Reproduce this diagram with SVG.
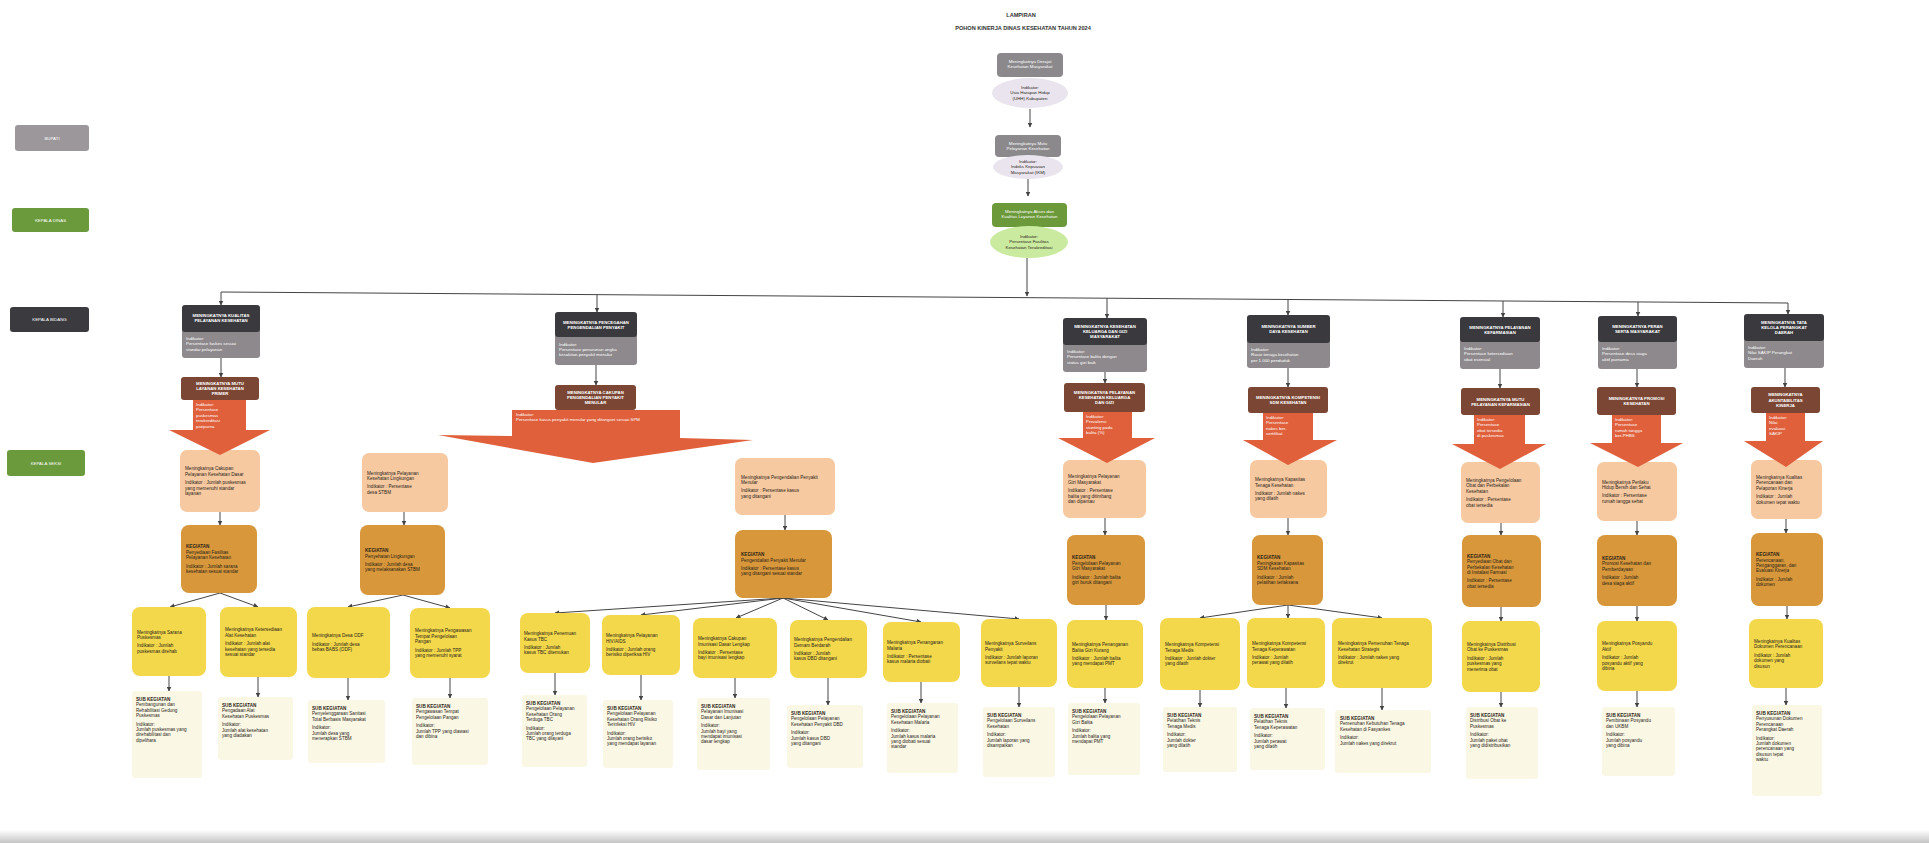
<svg xmlns="http://www.w3.org/2000/svg" width="1929" height="843" viewBox="0 0 1929 843">
<defs>
<style>
text{font-family:"Liberation Sans",Arial,sans-serif}
.ttl{fill:#333;font-size:5.6px;font-weight:bold;text-anchor:middle}
.wb{fill:#fff;font-size:4.3px;font-weight:bold;text-anchor:middle}
.wc{fill:#fff;font-size:4.4px;text-anchor:middle}
.wi{fill:#fff;font-size:4.4px}
.dc{fill:#2a2418;font-size:4.4px;text-anchor:middle}
.d{fill:#2a2418;font-size:4.6px}
.b{font-weight:bold}
.dark{fill:#3a393d}
.gry{fill:#8e898c}
.brn{fill:#7b4734}
.arr{fill:#e0603c}
.pch{fill:#f7c9a1}
.och{fill:#d8973a}
.yel{fill:#f3d84b}
.crm{fill:#faf7e4}
.ln{stroke:#444;stroke-width:1;fill:none}
.la{stroke:#444;stroke-width:1;fill:none;marker-end:url(#ah)}
</style>
<marker id="ah" markerWidth="5" markerHeight="5" refX="4.5" refY="2.5" orient="auto" markerUnits="userSpaceOnUse"><path d="M0,0 L5,2.5 L0,5 z" fill="#444"/></marker>
<linearGradient id="edge" x1="0" y1="0" x2="0" y2="1"><stop offset="0" stop-color="#ffffff"/><stop offset="1" stop-color="#c4c4c4"/></linearGradient>
</defs>
<rect width="1929" height="843" fill="#ffffff"/>
<rect x="0" y="830" width="1929" height="13" fill="url(#edge)"/>

<g id="title">
<text class="ttl" x="1021" y="17">LAMPIRAN</text>
<text class="ttl" x="1023" y="30">POHON KINERJA DINAS KESEHATAN TAHUN 2024</text>
</g>

<g id="legend">
<g id="leg1"><rect x="15" y="125" width="74" height="26" rx="3" fill="#9b979b"/><text class="wc" x="52" y="139.5">BUPATI</text></g>
<g id="leg2"><rect x="12" y="208" width="77" height="24" rx="3" fill="#6a9a3b"/><text class="wc" x="50.5" y="221.5">KEPALA DINAS</text></g>
<g id="leg3"><rect x="10" y="307" width="79" height="25" rx="3" fill="#3b3b3f"/><text class="wc" x="49.5" y="321">KEPALA BIDANG</text></g>
<g id="leg4"><rect x="7" y="450" width="78" height="26" rx="3" fill="#6a9a3b"/><text class="wc" x="46" y="464.5">KEPALA SEKSI</text></g>
</g>

<g id="connectors">
<path class="la" d="M1030,109 V127"/>
<path class="la" d="M1028,179 V196"/>
<path class="la" d="M1027,258 V296"/>
<path class="ln" d="M221,292 L1788,303"/>
<path class="la" d="M221,292 V305"/>
<path class="la" d="M597,294.6 V312"/>
<path class="la" d="M1107,298.2 V318"/>
<path class="la" d="M1288,299.5 V315"/>
<path class="la" d="M1503,301 V317"/>
<path class="la" d="M1638,302 V316"/>
<path class="la" d="M1788,303 V314"/>
<path class="la" d="M221,358 V377"/>
<path class="la" d="M596,365 V385"/>
<path class="la" d="M1105,372 V383"/>
<path class="la" d="M1288,368 V387"/>
<path class="la" d="M1500,369 V388"/>
<path class="la" d="M1637,369 V387"/>
<path class="la" d="M1785,368 V387"/>
<path class="la" d="M220,512 V525"/>
<path class="la" d="M404,512 V525"/>
<path class="la" d="M785,515 V530"/>
<path class="la" d="M1105,518 V535"/>
<path class="la" d="M1288,518 V535"/>
<path class="la" d="M1501,523 V535"/>
<path class="la" d="M1637,521 V535"/>
<path class="la" d="M1786,519 V533"/>
<path class="la" d="M220,593 L170,607"/>
<path class="la" d="M220,593 L258,607"/>
<path class="la" d="M403,595 L348,607"/>
<path class="la" d="M403,595 L450,608"/>
<path class="la" d="M783,598 L555,613"/>
<path class="la" d="M783,598 L641,615"/>
<path class="la" d="M783,598 L736,618"/>
<path class="la" d="M783,598 L828,620"/>
<path class="la" d="M783,598 L921,622"/>
<path class="la" d="M783,598 L1019,619"/>
<path class="la" d="M1106,605 V620"/>
<path class="la" d="M1288,605 L1200,618"/>
<path class="la" d="M1288,605 V618"/>
<path class="la" d="M1288,605 L1382,618"/>
<path class="la" d="M1501,607 V621"/>
<path class="la" d="M1637,606 V621"/>
<path class="la" d="M1787,606 V619"/>
<path class="la" d="M169,676 V691"/>
<path class="la" d="M258,677 V697"/>
<path class="la" d="M348,678 V700"/>
<path class="la" d="M450,678 V698"/>
<path class="la" d="M555,673 V695"/>
<path class="la" d="M641,675 V700"/>
<path class="la" d="M735,678 V698"/>
<path class="la" d="M828,678 V705"/>
<path class="la" d="M921,682 V703"/>
<path class="la" d="M1019,687 V707"/>
<path class="la" d="M1105,688 V703"/>
<path class="la" d="M1200,690 V707"/>
<path class="la" d="M1286,688 V708"/>
<path class="la" d="M1382,688 V710"/>
<path class="la" d="M1501,692 V707"/>
<path class="la" d="M1637,691 V707"/>
<path class="la" d="M1786,688 V705"/>
</g>

<!-- top chain -->
<g id="top1"><rect x="997" y="53" width="66" height="24" rx="4" fill="#8b898c"/><text class="wc" x="1030" y="63"><tspan x="1030">Meningkatnya Derajat</tspan><tspan x="1030" dy="5.4">Kesehatan Masyarakat</tspan></text></g>
<g id="top1-ind"><ellipse cx="1030" cy="93" rx="38" ry="15" fill="#e9e4ee"/><text class="dc" x="1030" y="89"><tspan x="1030">Indikator:</tspan><tspan x="1030" dy="5.4">Usia Harapan Hidup</tspan><tspan x="1030" dy="5.4">(UHH) Kabupaten</tspan></text></g>
<g id="top2"><rect x="995" y="135" width="66" height="22" rx="4" fill="#8b898c"/><text class="wc" x="1028" y="144.5"><tspan x="1028">Meningkatnya Mutu</tspan><tspan x="1028" dy="5.4">Pelayanan Kesehatan</tspan></text></g>
<g id="top2-ind"><ellipse cx="1028" cy="167" rx="35" ry="12" fill="#e9e4ee"/><text class="dc" x="1028" y="163"><tspan x="1028">Indikator:</tspan><tspan x="1028" dy="5.4">Indeks Kepuasan</tspan><tspan x="1028" dy="5.4">Masyarakat (IKM)</tspan></text></g>
<g id="top3"><rect x="992" y="203" width="75" height="24" rx="4" fill="#6c9a3a"/><text class="wc" x="1029.5" y="213"><tspan x="1029.5">Meningkatnya Akses dan</tspan><tspan x="1029.5" dy="5.4">Kualitas Layanan Kesehatan</tspan></text></g>
<g id="top3-ind"><ellipse cx="1029" cy="242" rx="39" ry="16" fill="#c9ea9f"/><text class="dc" x="1029" y="238"><tspan x="1029">Indikator:</tspan><tspan x="1029" dy="5.4">Persentase Fasilitas</tspan><tspan x="1029" dy="5.4">Kesehatan Terakreditasi</tspan></text></g>

<!-- Column A -->
<g id="A-bidang"><rect class="gry" x="182" y="328" width="78" height="30" rx="3"/><rect class="dark" x="182" y="305" width="78" height="27" rx="3"/>
<text class="wb" x="221" y="317.2"><tspan x="221">MENINGKATNYA KUALITAS</tspan><tspan x="221" dy="5.2">PELAYANAN KESEHATAN</tspan></text>
<text class="wi" x="186" y="340"><tspan x="186">Indikator:</tspan><tspan x="186" dy="5.4">Persentase faskes sesuai</tspan><tspan x="186" dy="5.4">standar pelayanan</tspan></text></g>
<g id="A-seksi"><rect class="brn" x="181" y="377" width="78" height="23" rx="3"/>
<text class="wb" x="220" y="384.9"><tspan x="220">MENINGKATNYA MUTU</tspan><tspan x="220" dy="5.2">LAYANAN KESEHATAN</tspan><tspan x="220" dy="5.2">PRIMER</tspan></text></g>
<g id="A-program"><rect class="pch" x="180" y="450" width="80" height="62" rx="7"/>
<text class="d" x="185" y="470.4"><tspan x="185">Meningkatnya Cakupan</tspan><tspan x="185" dy="5.4">Pelayanan Kesehatan Dasar</tspan><tspan x="185" dy="8.4">Indikator : Jumlah puskesmas</tspan><tspan x="185" dy="5.4">yang memenuhi standar</tspan><tspan x="185" dy="5.4">layanan</tspan></text></g>
<g id="A-arrow"><polygon class="arr" points="193,400 246,400 246,430 270,430 220,455 169,430 193,430"/>
<text class="wi" x="196" y="406"><tspan x="196">Indikator:</tspan><tspan x="196" dy="5.4">Persentase</tspan><tspan x="196" dy="5.4">puskesmas</tspan><tspan x="196" dy="5.4">terakreditasi</tspan><tspan x="196" dy="5.4">paripurna</tspan></text></g>
<g id="A-kegiatan"><rect class="och" x="181" y="525" width="76" height="68" rx="8"/>
<text class="d" x="186" y="548.4"><tspan x="186" class="b">KEGIATAN</tspan><tspan x="186" dy="5.4">Penyediaan Fasilitas</tspan><tspan x="186" dy="5.4">Pelayanan Kesehatan</tspan><tspan x="186" dy="8.4">Indikator : Jumlah sarana</tspan><tspan x="186" dy="5.4">kesehatan sesuai standar</tspan></text></g>
<g id="A-k1"><rect class="yel" x="132" y="607" width="74" height="69" rx="8"/>
<text class="d" x="137" y="633.6"><tspan x="137">Meningkatnya Sarana</tspan><tspan x="137" dy="5.4">Puskesmas</tspan><tspan x="137" dy="8.4">Indikator : Jumlah</tspan><tspan x="137" dy="5.4">puskesmas direhab</tspan></text></g>
<g id="A-k2"><rect class="yel" x="220" y="607" width="77" height="70" rx="8"/>
<text class="d" x="225" y="631.4"><tspan x="225">Meningkatnya Ketersediaan</tspan><tspan x="225" dy="5.4">Alat Kesehatan</tspan><tspan x="225" dy="8.4">Indikator : Jumlah alat</tspan><tspan x="225" dy="5.4">kesehatan yang tersedia</tspan><tspan x="225" dy="5.4">sesuai standar</tspan></text></g>
<g id="A-s1"><rect class="crm" x="132" y="691" width="70" height="87" rx="3"/>
<text class="d" x="136" y="701"><tspan x="136" class="b">SUB KEGIATAN</tspan><tspan x="136" dy="5.4">Pembangunan dan</tspan><tspan x="136" dy="5.4">Rehabilitasi Gedung</tspan><tspan x="136" dy="5.4">Puskesmas</tspan><tspan x="136" dy="8.4">Indikator:</tspan><tspan x="136" dy="5.4">Jumlah puskesmas yang</tspan><tspan x="136" dy="5.4">direhabilitasi dan</tspan><tspan x="136" dy="5.4">dipelihara</tspan></text></g>
<g id="A-s2"><rect class="crm" x="218" y="697" width="75" height="63" rx="3"/>
<text class="d" x="222" y="707"><tspan x="222" class="b">SUB KEGIATAN</tspan><tspan x="222" dy="5.4">Pengadaan Alat</tspan><tspan x="222" dy="5.4">Kesehatan Puskesmas</tspan><tspan x="222" dy="8.4">Indikator:</tspan><tspan x="222" dy="5.4">Jumlah alat kesehatan</tspan><tspan x="222" dy="5.4">yang diadakan</tspan></text></g>

<!-- Column B -->
<g id="B-bidang"><rect class="gry" x="555" y="333" width="82" height="32" rx="3"/><rect class="dark" x="555" y="312" width="82" height="25" rx="3"/>
<text class="wb" x="596" y="323.5"><tspan x="596">MENINGKATNYA PENCEGAHAN</tspan><tspan x="596" dy="5.2">PENGENDALIAN PENYAKIT</tspan></text>
<text class="wi" x="559" y="345.5"><tspan x="559">Indikator:</tspan><tspan x="559" dy="5.4">Persentase penurunan angka</tspan><tspan x="559" dy="5.4">kesakitan penyakit menular</tspan></text></g>
<g id="B-seksi"><rect class="brn" x="555" y="385" width="81" height="25" rx="3"/>
<text class="wb" x="595.5" y="393.9"><tspan x="595.5">MENINGKATNYA CAKUPAN</tspan><tspan x="595.5" dy="5.2">PENGENDALIAN PENYAKIT</tspan><tspan x="595.5" dy="5.2">MENULAR</tspan></text></g>
<g id="B1-program"><rect class="pch" x="362" y="453" width="86" height="59" rx="7"/>
<text class="d" x="367" y="474.6"><tspan x="367">Meningkatnya Pelayanan</tspan><tspan x="367" dy="5.4">Kesehatan Lingkungan</tspan><tspan x="367" dy="8.4">Indikator : Persentase</tspan><tspan x="367" dy="5.4">desa STBM</tspan></text></g>
<g id="B2-program"><rect class="pch" x="735" y="458" width="100" height="57" rx="7"/>
<text class="d" x="741" y="478.6"><tspan x="741">Meningkatnya Pengendalian Penyakit</tspan><tspan x="741" dy="5.4">Menular</tspan><tspan x="741" dy="8.4">Indikator : Persentase kasus</tspan><tspan x="741" dy="5.4">yang ditangani</tspan></text></g>
<g id="B-arrow"><polygon class="arr" points="512,410 680,410 680,438 753,440 593,463 438,435 512,436"/>
<text class="wi" x="516" y="416"><tspan x="516">Indikator:</tspan><tspan x="516" dy="5.4">Persentase kasus penyakit menular yang ditangani sesuai SPM</tspan></text></g>
<g id="B1-kegiatan"><rect class="och" x="360" y="525" width="85" height="70" rx="8"/>
<text class="d" x="365" y="552.1"><tspan x="365" class="b">KEGIATAN</tspan><tspan x="365" dy="5.4">Penyehatan Lingkungan</tspan><tspan x="365" dy="8.4">Indikator : Jumlah desa</tspan><tspan x="365" dy="5.4">yang melaksanakan STBM</tspan></text></g>
<g id="B1-k1"><rect class="yel" x="307" y="607" width="83" height="71" rx="8"/>
<text class="d" x="312" y="637.3"><tspan x="312">Meningkatnya Desa ODF</tspan><tspan x="312" dy="8.4">Indikator : Jumlah desa</tspan><tspan x="312" dy="5.4">bebas BABS (ODF)</tspan></text></g>
<g id="B1-k2"><rect class="yel" x="410" y="608" width="80" height="70" rx="8"/>
<text class="d" x="415" y="632.4"><tspan x="415">Meningkatnya Pengawasan</tspan><tspan x="415" dy="5.4">Tempat Pengelolaan</tspan><tspan x="415" dy="5.4">Pangan</tspan><tspan x="415" dy="8.4">Indikator : Jumlah TPP</tspan><tspan x="415" dy="5.4">yang memenuhi syarat</tspan></text></g>
<g id="B1-s1"><rect class="crm" x="308" y="700" width="77" height="63" rx="3"/>
<text class="d" x="312" y="710"><tspan x="312" class="b">SUB KEGIATAN</tspan><tspan x="312" dy="5.4">Penyelenggaraan Sanitasi</tspan><tspan x="312" dy="5.4">Total Berbasis Masyarakat</tspan><tspan x="312" dy="8.4">Indikator:</tspan><tspan x="312" dy="5.4">Jumlah desa yang</tspan><tspan x="312" dy="5.4">menerapkan STBM</tspan></text></g>
<g id="B1-s2"><rect class="crm" x="412" y="698" width="76" height="67" rx="3"/>
<text class="d" x="416" y="708"><tspan x="416" class="b">SUB KEGIATAN</tspan><tspan x="416" dy="5.4">Pengawasan Tempat</tspan><tspan x="416" dy="5.4">Pengelolaan Pangan</tspan><tspan x="416" dy="8.4">Indikator:</tspan><tspan x="416" dy="5.4">Jumlah TPP yang diawasi</tspan><tspan x="416" dy="5.4">dan dibina</tspan></text></g>
<g id="B2-kegiatan"><rect class="och" x="735" y="530" width="97" height="68" rx="8"/>
<text class="d" x="741" y="556.1"><tspan x="741" class="b">KEGIATAN</tspan><tspan x="741" dy="5.4">Pengendalian Penyakit Menular</tspan><tspan x="741" dy="8.4">Indikator : Persentase kasus</tspan><tspan x="741" dy="5.4">yang ditangani sesuai standar</tspan></text></g>
<g id="B2-k1"><rect class="yel" x="520" y="613" width="70" height="60" rx="8"/>
<text class="d" x="524" y="635.1"><tspan x="524">Meningkatnya Penemuan</tspan><tspan x="524" dy="5.4">Kasus TBC</tspan><tspan x="524" dy="8.4">Indikator : Jumlah</tspan><tspan x="524" dy="5.4">kasus TBC ditemukan</tspan></text></g>
<g id="B2-k2"><rect class="yel" x="602" y="615" width="78" height="60" rx="8"/>
<text class="d" x="606" y="637.1"><tspan x="606">Meningkatnya Pelayanan</tspan><tspan x="606" dy="5.4">HIV/AIDS</tspan><tspan x="606" dy="8.4">Indikator : Jumlah orang</tspan><tspan x="606" dy="5.4">berisiko diperiksa HIV</tspan></text></g>
<g id="B2-k3"><rect class="yel" x="693" y="618" width="84" height="60" rx="8"/>
<text class="d" x="698" y="640.1"><tspan x="698">Meningkatnya Cakupan</tspan><tspan x="698" dy="5.4">Imunisasi Dasar Lengkap</tspan><tspan x="698" dy="8.4">Indikator : Persentase</tspan><tspan x="698" dy="5.4">bayi imunisasi lengkap</tspan></text></g>
<g id="B2-k4"><rect class="yel" x="790" y="620" width="77" height="58" rx="8"/>
<text class="d" x="794" y="641.1"><tspan x="794">Meningkatnya Pengendalian</tspan><tspan x="794" dy="5.4">Demam Berdarah</tspan><tspan x="794" dy="8.4">Indikator : Jumlah</tspan><tspan x="794" dy="5.4">kasus DBD ditangani</tspan></text></g>
<g id="B2-k5"><rect class="yel" x="883" y="622" width="77" height="60" rx="8"/>
<text class="d" x="887" y="644.1"><tspan x="887">Meningkatnya Penanganan</tspan><tspan x="887" dy="5.4">Malaria</tspan><tspan x="887" dy="8.4">Indikator : Persentase</tspan><tspan x="887" dy="5.4">kasus malaria diobati</tspan></text></g>
<g id="B2-k6"><rect class="yel" x="981" y="619" width="76" height="68" rx="8"/>
<text class="d" x="985" y="645.1"><tspan x="985">Meningkatnya Surveilans</tspan><tspan x="985" dy="5.4">Penyakit</tspan><tspan x="985" dy="8.4">Indikator : Jumlah laporan</tspan><tspan x="985" dy="5.4">surveilans tepat waktu</tspan></text></g>
<g id="B2-s1"><rect class="crm" x="522" y="695" width="65" height="72" rx="3"/>
<text class="d" x="526" y="705"><tspan x="526" class="b">SUB KEGIATAN</tspan><tspan x="526" dy="5.4">Pengelolaan Pelayanan</tspan><tspan x="526" dy="5.4">Kesehatan Orang</tspan><tspan x="526" dy="5.4">Terduga TBC</tspan><tspan x="526" dy="8.4">Indikator:</tspan><tspan x="526" dy="5.4">Jumlah orang terduga</tspan><tspan x="526" dy="5.4">TBC yang dilayani</tspan></text></g>
<g id="B2-s2"><rect class="crm" x="603" y="700" width="70" height="68" rx="3"/>
<text class="d" x="607" y="710"><tspan x="607" class="b">SUB KEGIATAN</tspan><tspan x="607" dy="5.4">Pengelolaan Pelayanan</tspan><tspan x="607" dy="5.4">Kesehatan Orang Risiko</tspan><tspan x="607" dy="5.4">Terinfeksi HIV</tspan><tspan x="607" dy="8.4">Indikator:</tspan><tspan x="607" dy="5.4">Jumlah orang berisiko</tspan><tspan x="607" dy="5.4">yang mendapat layanan</tspan></text></g>
<g id="B2-s3"><rect class="crm" x="697" y="698" width="73" height="72" rx="3"/>
<text class="d" x="701" y="708"><tspan x="701" class="b">SUB KEGIATAN</tspan><tspan x="701" dy="5.4">Pelayanan Imunisasi</tspan><tspan x="701" dy="5.4">Dasar dan Lanjutan</tspan><tspan x="701" dy="8.4">Indikator:</tspan><tspan x="701" dy="5.4">Jumlah bayi yang</tspan><tspan x="701" dy="5.4">mendapat imunisasi</tspan><tspan x="701" dy="5.4">dasar lengkap</tspan></text></g>
<g id="B2-s4"><rect class="crm" x="787" y="705" width="76" height="63" rx="3"/>
<text class="d" x="791" y="715"><tspan x="791" class="b">SUB KEGIATAN</tspan><tspan x="791" dy="5.4">Pengelolaan Pelayanan</tspan><tspan x="791" dy="5.4">Kesehatan Penyakit DBD</tspan><tspan x="791" dy="8.4">Indikator:</tspan><tspan x="791" dy="5.4">Jumlah kasus DBD</tspan><tspan x="791" dy="5.4">yang ditangani</tspan></text></g>
<g id="B2-s5"><rect class="crm" x="887" y="703" width="71" height="70" rx="3"/>
<text class="d" x="891" y="713"><tspan x="891" class="b">SUB KEGIATAN</tspan><tspan x="891" dy="5.4">Pengelolaan Pelayanan</tspan><tspan x="891" dy="5.4">Kesehatan Malaria</tspan><tspan x="891" dy="8.4">Indikator:</tspan><tspan x="891" dy="5.4">Jumlah kasus malaria</tspan><tspan x="891" dy="5.4">yang diobati sesuai</tspan><tspan x="891" dy="5.4">standar</tspan></text></g>
<g id="B2-s6"><rect class="crm" x="983" y="707" width="72" height="70" rx="3"/>
<text class="d" x="987" y="717"><tspan x="987" class="b">SUB KEGIATAN</tspan><tspan x="987" dy="5.4">Pengelolaan Surveilans</tspan><tspan x="987" dy="5.4">Kesehatan</tspan><tspan x="987" dy="8.4">Indikator:</tspan><tspan x="987" dy="5.4">Jumlah laporan yang</tspan><tspan x="987" dy="5.4">disampaikan</tspan></text></g>

<!-- Column C -->
<g id="C-bidang"><rect class="gry" x="1063" y="341" width="84" height="31" rx="3"/><rect class="dark" x="1063" y="318" width="84" height="27" rx="3"/>
<text class="wb" x="1105" y="327.9"><tspan x="1105">MENINGKATNYA KESEHATAN</tspan><tspan x="1105" dy="5.2">KELUARGA DAN GIZI</tspan><tspan x="1105" dy="5.2">MASYARAKAT</tspan></text>
<text class="wi" x="1067" y="353"><tspan x="1067">Indikator:</tspan><tspan x="1067" dy="5.4">Persentase balita dengan</tspan><tspan x="1067" dy="5.4">status gizi baik</tspan></text></g>
<g id="C-seksi"><rect class="brn" x="1064" y="383" width="81" height="29" rx="3"/>
<text class="wb" x="1104.5" y="393.9"><tspan x="1104.5">MENINGKATNYA PELAYANAN</tspan><tspan x="1104.5" dy="5.2">KESEHATAN KELUARGA</tspan><tspan x="1104.5" dy="5.2">DAN GIZI</tspan></text></g>
<g id="C-program"><rect class="pch" x="1063" y="460" width="83" height="58" rx="7"/>
<text class="d" x="1068" y="478.4"><tspan x="1068">Meningkatnya Pelayanan</tspan><tspan x="1068" dy="5.4">Gizi Masyarakat</tspan><tspan x="1068" dy="8.4">Indikator : Persentase</tspan><tspan x="1068" dy="5.4">balita yang ditimbang</tspan><tspan x="1068" dy="5.4">dan dipantau</tspan></text></g>
<g id="C-arrow"><polygon class="arr" points="1083,412 1132,412 1132,438 1155,438 1107,463 1058,438 1083,438"/>
<text class="wi" x="1086" y="418"><tspan x="1086">Indikator:</tspan><tspan x="1086" dy="5.4">Prevalensi</tspan><tspan x="1086" dy="5.4">stunting pada</tspan><tspan x="1086" dy="5.4">balita (%)</tspan></text></g>
<g id="C-kegiatan"><rect class="och" x="1067" y="535" width="78" height="70" rx="8"/>
<text class="d" x="1072" y="559.4"><tspan x="1072" class="b">KEGIATAN</tspan><tspan x="1072" dy="5.4">Pengelolaan Pelayanan</tspan><tspan x="1072" dy="5.4">Gizi Masyarakat</tspan><tspan x="1072" dy="8.4">Indikator : Jumlah balita</tspan><tspan x="1072" dy="5.4">gizi buruk ditangani</tspan></text></g>
<g id="C-k1"><rect class="yel" x="1067" y="620" width="76" height="68" rx="8"/>
<text class="d" x="1072" y="646.1"><tspan x="1072">Meningkatnya Penanganan</tspan><tspan x="1072" dy="5.4">Balita Gizi Kurang</tspan><tspan x="1072" dy="8.4">Indikator : Jumlah balita</tspan><tspan x="1072" dy="5.4">yang mendapat PMT</tspan></text></g>
<g id="C-s1"><rect class="crm" x="1068" y="703" width="72" height="72" rx="3"/>
<text class="d" x="1072" y="713"><tspan x="1072" class="b">SUB KEGIATAN</tspan><tspan x="1072" dy="5.4">Pengelolaan Pelayanan</tspan><tspan x="1072" dy="5.4">Gizi Balita</tspan><tspan x="1072" dy="8.4">Indikator:</tspan><tspan x="1072" dy="5.4">Jumlah balita yang</tspan><tspan x="1072" dy="5.4">mendapat PMT</tspan></text></g>

<!-- Column D -->
<g id="D-bidang"><rect class="gry" x="1247" y="339" width="83" height="29" rx="3"/><rect class="dark" x="1247" y="315" width="83" height="28" rx="3"/>
<text class="wb" x="1288.5" y="328"><tspan x="1288.5">MENINGKATNYA SUMBER</tspan><tspan x="1288.5" dy="5.2">DAYA KESEHATAN</tspan></text>
<text class="wi" x="1251" y="351"><tspan x="1251">Indikator:</tspan><tspan x="1251" dy="5.4">Rasio tenaga kesehatan</tspan><tspan x="1251" dy="5.4">per 1.000 penduduk</tspan></text></g>
<g id="D-seksi"><rect class="brn" x="1248" y="387" width="80" height="26" rx="3"/>
<text class="wb" x="1288" y="399"><tspan x="1288">MENINGKATNYA KOMPETENSI</tspan><tspan x="1288" dy="5.2">SDM KESEHATAN</tspan></text></g>
<g id="D-program"><rect class="pch" x="1250" y="460" width="77" height="58" rx="7"/>
<text class="d" x="1255" y="481.1"><tspan x="1255">Meningkatnya Kapasitas</tspan><tspan x="1255" dy="5.4">Tenaga Kesehatan</tspan><tspan x="1255" dy="8.4">Indikator : Jumlah nakes</tspan><tspan x="1255" dy="5.4">yang dilatih</tspan></text></g>
<g id="D-arrow"><polygon class="arr" points="1263,413 1313,413 1313,440 1337,440 1288,465 1243,440 1263,440"/>
<text class="wi" x="1266" y="419"><tspan x="1266">Indikator:</tspan><tspan x="1266" dy="5.4">Persentase</tspan><tspan x="1266" dy="5.4">nakes ber-</tspan><tspan x="1266" dy="5.4">sertifikat</tspan></text></g>
<g id="D-kegiatan"><rect class="och" x="1252" y="535" width="71" height="70" rx="8"/>
<text class="d" x="1257" y="559.4"><tspan x="1257" class="b">KEGIATAN</tspan><tspan x="1257" dy="5.4">Peningkatan Kapasitas</tspan><tspan x="1257" dy="5.4">SDM Kesehatan</tspan><tspan x="1257" dy="8.4">Indikator : Jumlah</tspan><tspan x="1257" dy="5.4">pelatihan terlaksana</tspan></text></g>
<g id="D-k1"><rect class="yel" x="1160" y="618" width="80" height="72" rx="8"/>
<text class="d" x="1165" y="646.1"><tspan x="1165">Meningkatnya Kompetensi</tspan><tspan x="1165" dy="5.4">Tenaga Medis</tspan><tspan x="1165" dy="8.4">Indikator : Jumlah dokter</tspan><tspan x="1165" dy="5.4">yang dilatih</tspan></text></g>
<g id="D-k2"><rect class="yel" x="1247" y="618" width="78" height="70" rx="8"/>
<text class="d" x="1252" y="645.1"><tspan x="1252">Meningkatnya Kompetensi</tspan><tspan x="1252" dy="5.4">Tenaga Keperawatan</tspan><tspan x="1252" dy="8.4">Indikator : Jumlah</tspan><tspan x="1252" dy="5.4">perawat yang dilatih</tspan></text></g>
<g id="D-k3"><rect class="yel" x="1332" y="618" width="100" height="70" rx="8"/>
<text class="d" x="1338" y="645.1"><tspan x="1338">Meningkatnya Pemenuhan Tenaga</tspan><tspan x="1338" dy="5.4">Kesehatan Strategis</tspan><tspan x="1338" dy="8.4">Indikator : Jumlah nakes yang</tspan><tspan x="1338" dy="5.4">direkrut</tspan></text></g>
<g id="D-s1"><rect class="crm" x="1163" y="707" width="74" height="65" rx="3"/>
<text class="d" x="1167" y="717"><tspan x="1167" class="b">SUB KEGIATAN</tspan><tspan x="1167" dy="5.4">Pelatihan Teknis</tspan><tspan x="1167" dy="5.4">Tenaga Medis</tspan><tspan x="1167" dy="8.4">Indikator:</tspan><tspan x="1167" dy="5.4">Jumlah dokter</tspan><tspan x="1167" dy="5.4">yang dilatih</tspan></text></g>
<g id="D-s2"><rect class="crm" x="1250" y="708" width="75" height="62" rx="3"/>
<text class="d" x="1254" y="718"><tspan x="1254" class="b">SUB KEGIATAN</tspan><tspan x="1254" dy="5.4">Pelatihan Teknis</tspan><tspan x="1254" dy="5.4">Tenaga Keperawatan</tspan><tspan x="1254" dy="8.4">Indikator:</tspan><tspan x="1254" dy="5.4">Jumlah perawat</tspan><tspan x="1254" dy="5.4">yang dilatih</tspan></text></g>
<g id="D-s3"><rect class="crm" x="1335" y="710" width="96" height="63" rx="3"/>
<text class="d" x="1340" y="720"><tspan x="1340" class="b">SUB KEGIATAN</tspan><tspan x="1340" dy="5.4">Pemenuhan Kebutuhan Tenaga</tspan><tspan x="1340" dy="5.4">Kesehatan di Fasyankes</tspan><tspan x="1340" dy="8.4">Indikator:</tspan><tspan x="1340" dy="5.4">Jumlah nakes yang direkrut</tspan></text></g>

<!-- Column E -->
<g id="E-bidang"><rect class="gry" x="1460" y="338" width="80" height="31" rx="3"/><rect class="dark" x="1460" y="317" width="80" height="25" rx="3"/>
<text class="wb" x="1500" y="328.5"><tspan x="1500">MENINGKATNYA PELAYANAN</tspan><tspan x="1500" dy="5.2">KEFARMASIAN</tspan></text>
<text class="wi" x="1464" y="350"><tspan x="1464">Indikator:</tspan><tspan x="1464" dy="5.4">Persentase ketersediaan</tspan><tspan x="1464" dy="5.4">obat esensial</tspan></text></g>
<g id="E-seksi"><rect class="brn" x="1461" y="388" width="79" height="27" rx="3"/>
<text class="wb" x="1500.5" y="400.5"><tspan x="1500.5">MENINGKATNYA MUTU</tspan><tspan x="1500.5" dy="5.2">PELAYANAN KEFARMASIAN</tspan></text></g>
<g id="E-program"><rect class="pch" x="1461" y="462" width="79" height="61" rx="7"/>
<text class="d" x="1466" y="481.9"><tspan x="1466">Meningkatnya Pengelolaan</tspan><tspan x="1466" dy="5.4">Obat dan Perbekalan</tspan><tspan x="1466" dy="5.4">Kesehatan</tspan><tspan x="1466" dy="8.4">Indikator : Persentase</tspan><tspan x="1466" dy="5.4">obat tersedia</tspan></text></g>
<g id="E-arrow"><polygon class="arr" points="1474,415 1525,415 1525,444 1546,444 1500,469 1452,444 1474,444"/>
<text class="wi" x="1477" y="421"><tspan x="1477">Indikator:</tspan><tspan x="1477" dy="5.4">Persentase</tspan><tspan x="1477" dy="5.4">obat tersedia</tspan><tspan x="1477" dy="5.4">di puskesmas</tspan></text></g>
<g id="E-kegiatan"><rect class="och" x="1462" y="535" width="79" height="72" rx="8"/>
<text class="d" x="1467" y="557.7"><tspan x="1467" class="b">KEGIATAN</tspan><tspan x="1467" dy="5.4">Penyediaan Obat dan</tspan><tspan x="1467" dy="5.4">Perbekalan Kesehatan</tspan><tspan x="1467" dy="5.4">di Instalasi Farmasi</tspan><tspan x="1467" dy="8.4">Indikator : Persentase</tspan><tspan x="1467" dy="5.4">obat tersedia</tspan></text></g>
<g id="E-k1"><rect class="yel" x="1462" y="621" width="78" height="71" rx="8"/>
<text class="d" x="1467" y="645.9"><tspan x="1467">Meningkatnya Distribusi</tspan><tspan x="1467" dy="5.4">Obat ke Puskesmas</tspan><tspan x="1467" dy="8.4">Indikator : Jumlah</tspan><tspan x="1467" dy="5.4">puskesmas yang</tspan><tspan x="1467" dy="5.4">menerima obat</tspan></text></g>
<g id="E-s1"><rect class="crm" x="1466" y="707" width="72" height="72" rx="3"/>
<text class="d" x="1470" y="717"><tspan x="1470" class="b">SUB KEGIATAN</tspan><tspan x="1470" dy="5.4">Distribusi Obat ke</tspan><tspan x="1470" dy="5.4">Puskesmas</tspan><tspan x="1470" dy="8.4">Indikator:</tspan><tspan x="1470" dy="5.4">Jumlah paket obat</tspan><tspan x="1470" dy="5.4">yang didistribusikan</tspan></text></g>

<!-- Column F -->
<g id="F-bidang"><rect class="gry" x="1598" y="338" width="79" height="31" rx="3"/><rect class="dark" x="1598" y="316" width="79" height="26" rx="3"/>
<text class="wb" x="1637.5" y="328"><tspan x="1637.5">MENINGKATNYA PERAN</tspan><tspan x="1637.5" dy="5.2">SERTA MASYARAKAT</tspan></text>
<text class="wi" x="1602" y="350"><tspan x="1602">Indikator:</tspan><tspan x="1602" dy="5.4">Persentase desa siaga</tspan><tspan x="1602" dy="5.4">aktif purnama</tspan></text></g>
<g id="F-seksi"><rect class="brn" x="1597" y="387" width="79" height="28" rx="3"/>
<text class="wb" x="1636.5" y="400"><tspan x="1636.5">MENINGKATNYA PROMOSI</tspan><tspan x="1636.5" dy="5.2">KESEHATAN</tspan></text></g>
<g id="F-program"><rect class="pch" x="1597" y="462" width="80" height="59" rx="7"/>
<text class="d" x="1602" y="483.6"><tspan x="1602">Meningkatnya Perilaku</tspan><tspan x="1602" dy="5.4">Hidup Bersih dan Sehat</tspan><tspan x="1602" dy="8.4">Indikator : Persentase</tspan><tspan x="1602" dy="5.4">rumah tangga sehat</tspan></text></g>
<g id="F-arrow"><polygon class="arr" points="1612,415 1661,415 1661,443 1683,443 1638,467 1590,443 1612,443"/>
<text class="wi" x="1615" y="421"><tspan x="1615">Indikator:</tspan><tspan x="1615" dy="5.4">Persentase</tspan><tspan x="1615" dy="5.4">rumah tangga</tspan><tspan x="1615" dy="5.4">ber-PHBS</tspan></text></g>
<g id="F-kegiatan"><rect class="och" x="1597" y="535" width="80" height="71" rx="8"/>
<text class="d" x="1602" y="559.9"><tspan x="1602" class="b">KEGIATAN</tspan><tspan x="1602" dy="5.4">Promosi Kesehatan dan</tspan><tspan x="1602" dy="5.4">Pemberdayaan</tspan><tspan x="1602" dy="8.4">Indikator : Jumlah</tspan><tspan x="1602" dy="5.4">desa siaga aktif</tspan></text></g>
<g id="F-k1"><rect class="yel" x="1597" y="621" width="80" height="70" rx="8"/>
<text class="d" x="1602" y="645.4"><tspan x="1602">Meningkatnya Posyandu</tspan><tspan x="1602" dy="5.4">Aktif</tspan><tspan x="1602" dy="8.4">Indikator : Jumlah</tspan><tspan x="1602" dy="5.4">posyandu aktif yang</tspan><tspan x="1602" dy="5.4">dibina</tspan></text></g>
<g id="F-s1"><rect class="crm" x="1602" y="707" width="73" height="69" rx="3"/>
<text class="d" x="1606" y="717"><tspan x="1606" class="b">SUB KEGIATAN</tspan><tspan x="1606" dy="5.4">Pembinaan Posyandu</tspan><tspan x="1606" dy="5.4">dan UKBM</tspan><tspan x="1606" dy="8.4">Indikator:</tspan><tspan x="1606" dy="5.4">Jumlah posyandu</tspan><tspan x="1606" dy="5.4">yang dibina</tspan></text></g>

<!-- Column G -->
<g id="G-bidang"><rect class="gry" x="1744" y="337" width="80" height="31" rx="3"/><rect class="dark" x="1744" y="314" width="80" height="27" rx="3"/>
<text class="wb" x="1784" y="323.9"><tspan x="1784">MENINGKATNYA TATA</tspan><tspan x="1784" dy="5.2">KELOLA PERANGKAT</tspan><tspan x="1784" dy="5.2">DAERAH</tspan></text>
<text class="wi" x="1748" y="349"><tspan x="1748">Indikator:</tspan><tspan x="1748" dy="5.4">Nilai SAKIP Perangkat</tspan><tspan x="1748" dy="5.4">Daerah</tspan></text></g>
<g id="G-seksi"><rect class="brn" x="1751" y="387" width="69" height="26" rx="3"/>
<text class="wb" x="1785.5" y="396.4"><tspan x="1785.5">MENINGKATNYA</tspan><tspan x="1785.5" dy="5.2">AKUNTABILITAS</tspan><tspan x="1785.5" dy="5.2">KINERJA</tspan></text></g>
<g id="G-program"><rect class="pch" x="1751" y="460" width="71" height="59" rx="7"/>
<text class="d" x="1756" y="478.9"><tspan x="1756">Meningkatnya Kualitas</tspan><tspan x="1756" dy="5.4">Perencanaan dan</tspan><tspan x="1756" dy="5.4">Pelaporan Kinerja</tspan><tspan x="1756" dy="8.4">Indikator : Jumlah</tspan><tspan x="1756" dy="5.4">dokumen tepat waktu</tspan></text></g>
<g id="G-arrow"><polygon class="arr" points="1766,413 1805,413 1805,441 1823,441 1786,467 1744,441 1766,441"/>
<text class="wi" x="1769" y="419"><tspan x="1769">Indikator:</tspan><tspan x="1769" dy="5.4">Nilai</tspan><tspan x="1769" dy="5.4">evaluasi</tspan><tspan x="1769" dy="5.4">SAKIP</tspan></text></g>
<g id="G-kegiatan"><rect class="och" x="1751" y="533" width="72" height="73" rx="8"/>
<text class="d" x="1756" y="556.2"><tspan x="1756" class="b">KEGIATAN</tspan><tspan x="1756" dy="5.4">Perencanaan,</tspan><tspan x="1756" dy="5.4">Penganggaran, dan</tspan><tspan x="1756" dy="5.4">Evaluasi Kinerja</tspan><tspan x="1756" dy="8.4">Indikator : Jumlah</tspan><tspan x="1756" dy="5.4">dokumen</tspan></text></g>
<g id="G-k1"><rect class="yel" x="1749" y="619" width="74" height="69" rx="8"/>
<text class="d" x="1754" y="642.9"><tspan x="1754">Meningkatnya Kualitas</tspan><tspan x="1754" dy="5.4">Dokumen Perencanaan</tspan><tspan x="1754" dy="8.4">Indikator : Jumlah</tspan><tspan x="1754" dy="5.4">dokumen yang</tspan><tspan x="1754" dy="5.4">disusun</tspan></text></g>
<g id="G-s1"><rect class="crm" x="1752" y="705" width="70" height="91" rx="3"/>
<text class="d" x="1756" y="715"><tspan x="1756" class="b">SUB KEGIATAN</tspan><tspan x="1756" dy="5.4">Penyusunan Dokumen</tspan><tspan x="1756" dy="5.4">Perencanaan</tspan><tspan x="1756" dy="5.4">Perangkat Daerah</tspan><tspan x="1756" dy="8.4">Indikator:</tspan><tspan x="1756" dy="5.4">Jumlah dokumen</tspan><tspan x="1756" dy="5.4">perencanaan yang</tspan><tspan x="1756" dy="5.4">disusun tepat</tspan><tspan x="1756" dy="5.4">waktu</tspan></text></g>
</svg>
